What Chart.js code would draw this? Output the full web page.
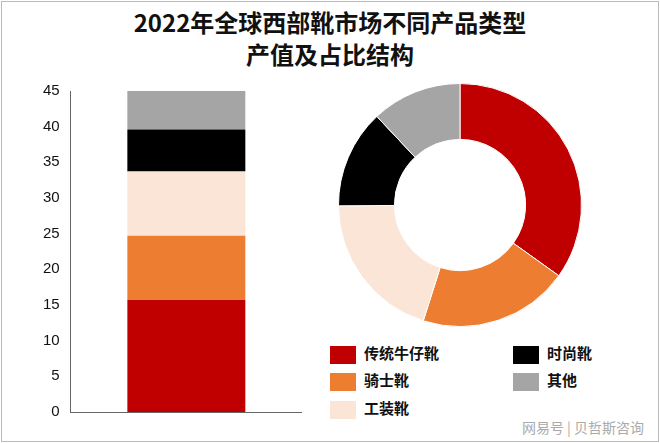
<!DOCTYPE html>
<html><head><meta charset="utf-8">
<script src="https://cdn.jsdelivr.net/npm/chart.js@4"></script>
<style>
body{margin:0;width:660px;height:443px;background:#fff;font-family:"Noto Sans CJK SC",sans-serif;}
#frame{position:absolute;left:1px;top:1px;width:656px;height:439px;border:1px solid #bbb;}
#title{position:absolute;left:0;top:6px;width:660px;text-align:center;font-weight:bold;font-size:24px;line-height:32px;color:#111;}
#bar{position:absolute;left:40px;top:79px;width:262px;height:345px;}
#pie{position:absolute;left:338px;top:83px;width:244px;height:244px;}
.lg{position:absolute;font-weight:bold;font-size:15px;color:#111;}
.lg i{display:inline-block;width:26px;height:18px;vertical-align:middle;margin-right:8px;}
#wm{position:absolute;right:16px;bottom:6px;font-size:14px;color:#aaa;}
</style></head><body>
<div id="frame"></div>
<div id="title">2022年全球西部靴市场不同产品类型<br>产值及占比结构</div>
<div id="bar"><canvas id="c1"></canvas></div>
<div id="pie"><canvas id="c2"></canvas></div>
<div id="legend"></div>
<div id="wm">网易号 | 贝哲斯咨询</div>
<script>
const categories = ['传统牛仔靴', '骑士靴', '工装靴', '时尚靴', '其他'];
const values = [15.7, 9.0, 9.0, 5.9, 5.4];
const colors = ['#c00000', '#ed7d31', '#fbe5d6', '#000000', '#a5a5a5'];
const yTicks = [0, 5, 10, 15, 20, 25, 30, 35, 40, 45];

new Chart(document.getElementById('c1'), {
    type: 'bar',
    data: {
        labels: [''],
        datasets: categories.map((c, i) => ({
            label: c, data: [values[i]], backgroundColor: colors[i],
            barPercentage: 0.51, categoryPercentage: 1
        }))
    },
    options: {
        responsive: true, maintainAspectRatio: false, animation: false,
        plugins: {legend: {display: false}, tooltip: {enabled: false}},
        scales: {
            x: {stacked: true, grid: {display: false, drawTicks: false}, ticks: {display: false},
                border: {color: '#666'}},
            y: {stacked: true, min: 0, max: 45, afterBuildTicks: a => { a.ticks = yTicks.map(v => ({value: v})); },
                grid: {display: false}, border: {color: '#666'},
                ticks: {color: '#111', font: {size: 15, family: 'Liberation Sans'}}}
        }
    }
});

new Chart(document.getElementById('c2'), {
    type: 'doughnut',
    data: {labels: categories, datasets: [{data: values, backgroundColor: colors, borderColor: '#fff', borderWidth: 1}]},
    options: {
        responsive: true, maintainAspectRatio: false, animation: false, cutout: '54%',
        plugins: {legend: {display: false}, tooltip: {enabled: false}}
    }
});

const pos = [[330, 342], [330, 369], [330, 397], [513, 342], [513, 369]];
const lg = document.getElementById('legend');
categories.forEach((c, i) => {
    const d = document.createElement('div');
    d.className = 'lg';
    d.style.left = pos[i][0] + 'px';
    d.style.top = pos[i][1] + 'px';
    d.innerHTML = '<i style="background:' + colors[i] + '"></i>' + c;
    lg.appendChild(d);
});
</script>
</body></html>
